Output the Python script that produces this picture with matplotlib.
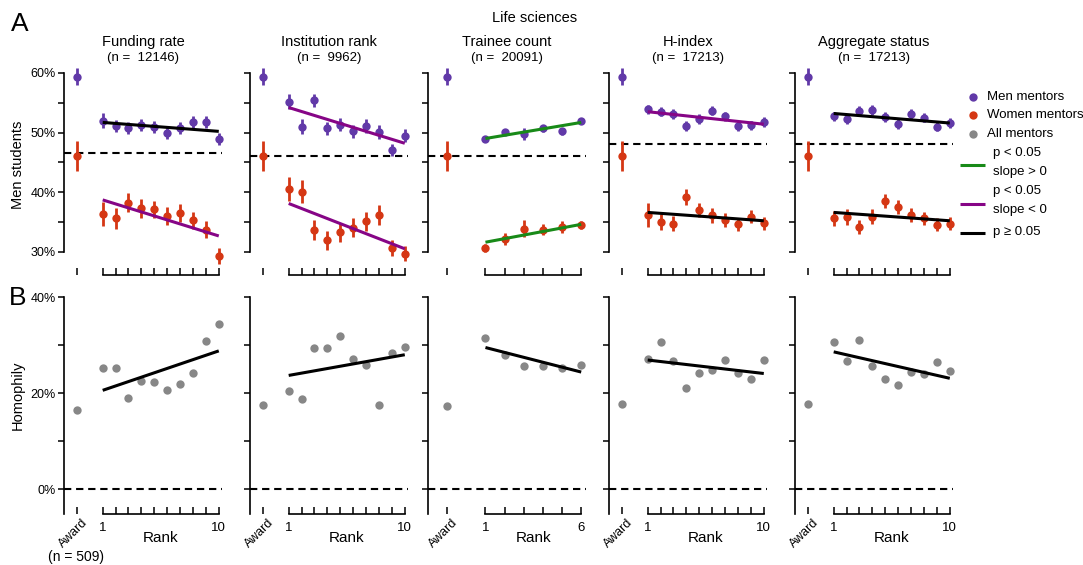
import matplotlib.pyplot as plt
import numpy as np
from matplotlib.lines import Line2D
from matplotlib.transforms import offset_copy

plt.rcParams['font.family'] = ['Liberation Sans', 'DejaVu Sans']

titles = ["Funding rate", "Institution rank", "Trainee count", "H-index", "Aggregate status"]
n_counts = [12146, 9962, 20091, 17213, 17213]
n_ranks = [10, 10, 6, 10, 10]

# award row (same award set in every panel)
award_men, award_men_err = 59.4, 1.5
award_women, award_women_err = 46.1, 2.5
award_homophily = [16.5, 17.5, 17.3, 17.7, 17.7]
award_n = 509

# baseline share of men students (dashed line)
baseline = [46.5, 46.1, 46.0, 48.0, 48.0]

# men mentors -> share of men students, by rank
men = [
    [52.0, 51.1, 50.7, 51.3, 50.9, 49.9, 50.8, 51.7, 51.7, 48.9],
    [55.2, 51.0, 55.4, 50.7, 51.3, 50.2, 51.1, 50.1, 47.1, 49.5],
    [48.9, 50.1, 49.8, 50.7, 50.2, 52.0],
    [53.9, 53.5, 53.1, 51.1, 52.3, 53.7, 52.7, 51.1, 51.2, 51.8],
    [52.7, 52.2, 53.7, 53.8, 52.6, 51.4, 53.1, 52.5, 51.0, 51.6],
]
men_err = [
    [1.2, 1.0, 1.0, 1.0, 1.0, 1.0, 1.0, 1.0, 1.0, 1.0],
    [1.3, 1.2, 1.1, 1.1, 1.1, 1.1, 1.1, 1.1, 1.0, 1.1],
    [0.4, 0.5, 1.0, 0.6, 0.6, 0.4],
    [0.8, 0.8, 0.8, 0.8, 0.8, 0.8, 0.8, 0.8, 0.8, 0.8],
    [0.8, 0.8, 0.8, 0.8, 0.8, 0.8, 0.8, 0.8, 0.8, 0.8],
]
women = [
    [36.3, 35.6, 38.2, 37.3, 37.1, 36.0, 36.5, 35.3, 33.7, 29.3],
    [40.5, 40.1, 33.7, 31.9, 33.3, 34.0, 35.1, 36.2, 30.6, 29.7],
    [30.6, 32.1, 33.9, 33.7, 34.1, 34.5],
    [36.2, 35.0, 34.7, 39.2, 37.0, 36.1, 35.3, 34.6, 35.9, 34.8],
    [35.6, 35.8, 34.2, 35.9, 38.5, 37.5, 36.2, 35.6, 34.5, 34.7],
]
women_err = [
    [2.0, 1.7, 1.6, 1.6, 1.5, 1.5, 1.5, 1.4, 1.4, 1.3],
    [2.0, 1.9, 1.7, 1.6, 1.6, 1.6, 1.6, 1.7, 1.3, 1.2],
    [0.7, 1.0, 1.4, 0.9, 1.0, 0.6],
    [2.0, 1.3, 1.3, 1.3, 1.2, 1.2, 1.2, 1.1, 1.1, 1.1],
    [1.3, 1.3, 1.2, 1.2, 1.2, 1.2, 1.2, 1.1, 1.1, 1.1],
]

# fitted trends: value at rank 1 and at last rank, plus significance class
men_fit = [(51.7, 50.2), (54.2, 48.2), (49.0, 51.7), (53.5, 51.4), (53.2, 51.6)]
men_sig = ["ns", "neg", "pos", "neg", "ns"]
women_fit = [(38.7, 32.65), (38.1, 30.5), (31.6, 34.6), (36.6, 35.2), (36.6, 35.2)]
women_sig = ["neg", "neg", "pos", "ns", "ns"]

homophily = [
    [25.2, 25.2, 19.1, 22.5, 22.4, 20.6, 22.0, 24.1, 30.8, 34.3],
    [20.4, 18.9, 29.3, 29.3, 31.9, 27.2, 25.8, 17.5, 28.4, 29.6],
    [31.4, 27.9, 25.6, 25.6, 25.3, 25.8],
    [27.2, 30.7, 26.7, 21.0, 24.2, 24.8, 26.9, 24.2, 22.9, 26.9],
    [30.6, 26.8, 31.0, 25.6, 22.9, 21.7, 24.4, 23.9, 26.5, 24.6],
]
homophily_fit = [(20.6, 28.8), (23.7, 28.0), (29.5, 24.4), (26.9, 24.1), (28.6, 23.1)]

men_c = "#6139a8"
women_c = "#d53714"
all_c = "#878787"
sig_colors = {"pos": "#188a18", "neg": "#860586", "ns": "black"}

W, H = 1083, 565
fig = plt.figure(figsize=(W / 100, H / 100), dpi=100)

lefts = [64, 250, 428, 609, 795]
aw = 158
eb = dict(fmt='o', ms=6, mew=0, elinewidth=2, capsize=0, zorder=2, clip_on=False)

for i in range(5):
    n = n_ranks[i]
    ranks = np.arange(1, n + 1)
    ax = fig.add_axes([lefts[i] / W, 1 - 275 / H, aw / W, 208 / H])
    axb = fig.add_axes([lefts[i] / W, 1 - 513.5 / H, aw / W, 216.5 / H])

    for a in (ax, axb):
        a.set_xlim(-2, n + 0.25)
        a.spines[['top', 'right']].set_visible(False)
        for s in a.spines.values():
            s.set_linewidth(1.2)
        a.spines['bottom'].set_bounds(1, n)
        a.set_xticks([-1] + list(ranks))
        a.tick_params(axis='x', direction='in', length=5, width=1.1)
        a.tick_params(axis='y', direction='out', length=4, width=1.1,
                      labelsize=9, pad=2)

    # top row: share of men students
    ax.set_ylim(26.1, 61.0)
    ax.spines['left'].set_bounds(30, 60)
    ax.set_yticks(np.arange(30, 61, 5))
    if i == 0:
        ax.set_yticklabels(["30%", "", "40%", "", "50%", "", "60%"])
    else:
        ax.set_yticklabels([])
    ax.set_xticklabels([])

    ax.axhline(baseline[i], color="black", lw=1.5, dashes=(3.5, 2.3), zorder=1)
    ax.errorbar([-1], [award_men], yerr=[award_men_err], color=men_c, **eb)
    ax.errorbar([-1], [award_women], yerr=[award_women_err], color=women_c, **eb)
    ax.errorbar(ranks, men[i], yerr=men_err[i], color=men_c, **eb)
    ax.errorbar(ranks, women[i], yerr=women_err[i], color=women_c, **eb)
    ax.plot([1, n], men_fit[i], color=sig_colors[men_sig[i]], lw=2.2, zorder=3,
            solid_capstyle='butt', clip_on=False)
    ax.plot([1, n], women_fit[i], color=sig_colors[women_sig[i]], lw=2.2, zorder=3,
            solid_capstyle='butt', clip_on=False)

    cx = (lefts[i] + aw / 2) / W
    fig.text(cx, 1 - 42 / H, titles[i], ha='center', va='center', fontsize=10.5)
    fig.text(cx, 1 - 57.5 / H, f"(n =  {n_counts[i]})", ha='center', va='center',
             fontsize=9.5)

    # bottom row: homophily
    axb.set_ylim(-5, 40)
    axb.spines['left'].set_bounds(-5, 40)
    axb.set_yticks([0, 10, 20, 30, 40])
    if i == 0:
        axb.set_yticklabels(["0%", "", "20%", "", "40%"])
    else:
        axb.set_yticklabels([])
    labels = [""] * (n + 1)
    labels[1] = "1"
    labels[-1] = str(n)
    axb.set_xticklabels(labels)
    axb.tick_params(axis='x', labelsize=9.5, pad=6)
    award_tr = offset_copy(axb.get_xaxis_transform(), fig=fig, x=9, y=-7, units='dots')
    axb.text(-1, 0, "Award", transform=award_tr, rotation=45, rotation_mode='anchor',
             ha='right', va='center', fontsize=9)

    axb.axhline(0, color="black", lw=1.5, dashes=(3.5, 2.3), zorder=1)
    axb.plot([-1], [award_homophily[i]], 'o', color=all_c, ms=6, mew=0, zorder=2,
             clip_on=False)
    axb.plot(ranks, homophily[i], 'o', color=all_c, ms=6, mew=0, zorder=2,
             clip_on=False)
    axb.plot([1, n], homophily_fit[i], color="black", lw=2.2, zorder=3,
             solid_capstyle='butt', clip_on=False)
    axb.text((1 + n) / 2, -0.115, "Rank", transform=axb.get_xaxis_transform(),
             ha='center', va='center', fontsize=11)

fig.text(535 / W, 1 - 18 / H, "Life sciences", ha='center', va='center', fontsize=10.5)
fig.text(20 / W, 1 - 24 / H, "A", ha='center', va='center', fontsize=19)
fig.text(18 / W, 1 - 298 / H, "B", ha='center', va='center', fontsize=19)
fig.text(18 / W, 1 - 165 / H, "Men students", ha='center', va='center',
         rotation=90, fontsize=10.5)
fig.text(18 / W, 1 - 395 / H, "Homophily", ha='center', va='center',
         rotation=90, fontsize=10.5)
fig.text(76 / W, 1 - 557 / H, f"(n = {award_n})", ha='center', va='center', fontsize=10)

# legend, laid out by hand in figure pixels
marker_entries = [(men_c, "Men mentors", 97), (women_c, "Women mentors", 115),
                  (all_c, "All mentors", 134)]
for col, txt, yp in marker_entries:
    fig.add_artist(Line2D([973 / W], [1 - yp / H], ls='none', marker='o', ms=6,
                          mew=0, color=col, transform=fig.transFigure))
    fig.text(987 / W, 1 - yp / H, txt, ha='left', va='center', fontsize=9.5)

line_entries = [(sig_colors["pos"], ["p < 0.05", "slope > 0"], 165, [153, 172]),
                (sig_colors["neg"], ["p < 0.05", "slope < 0"], 204, [191, 210]),
                (sig_colors["ns"], ["p \u2265 0.05"], 233, [232])]
for col, txts, yl, yts in line_entries:
    fig.add_artist(Line2D([960 / W, 985 / W], [1 - yl / H, 1 - yl / H], color=col,
                          lw=2.2, solid_capstyle='butt', transform=fig.transFigure))
    for t, yt in zip(txts, yts):
        fig.text(993 / W, 1 - yt / H, t, ha='left', va='center', fontsize=9.5)

fig.savefig("out.png", dpi=100)
